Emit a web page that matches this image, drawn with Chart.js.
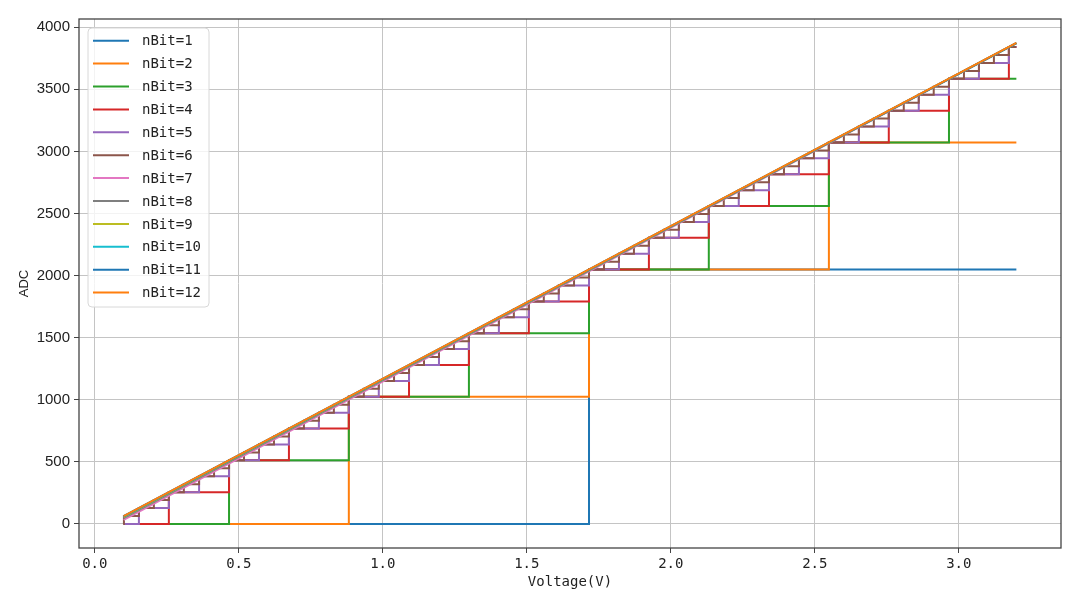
<!DOCTYPE html>
<html>
<head>
<meta charset="utf-8">
<script src="https://cdn.jsdelivr.net/npm/chart.js@4.4.1/dist/chart.umd.min.js"></script>
<style>
  html, body { margin: 0; padding: 0; background: #fff; }
  #wrap { width: 1080px; height: 607px; }
</style>
</head>
<body>
<div id="wrap"><canvas id="adcChart" width="1080" height="607"></canvas></div>
<script>
// ADC code vs input voltage for different bit depths

const seriesNames = ['nBit=1', 'nBit=2', 'nBit=3', 'nBit=4', 'nBit=5', 'nBit=6',
                     'nBit=7', 'nBit=8', 'nBit=9', 'nBit=10', 'nBit=11', 'nBit=12'];
const seriesColors = ['#1f77b4', '#ff7f0e', '#2ca02c', '#d62728', '#9467bd', '#8c564b',
                      '#e377c2', '#7f7f7f', '#bcbd22', '#17becf', '#1f77b4', '#ff7f0e'];

const vStart = 0.1;
const vEnd = 3.2;

// voltage where the 12 bit code crosses each multiple of 64
const stepVolts = [
  0.101, 0.153, 0.205, 0.257, 0.309, 0.362, 0.414, 0.466, 0.518, 0.570,
  0.622, 0.674, 0.726, 0.778, 0.830, 0.882, 0.934, 0.986, 1.039, 1.091,
  1.143, 1.195, 1.247, 1.299, 1.351, 1.403, 1.455, 1.507, 1.559, 1.611,
  1.664, 1.716, 1.768, 1.820, 1.872, 1.924, 1.976, 2.028, 2.080, 2.132,
  2.184, 2.236, 2.288, 2.341, 2.393, 2.445, 2.497, 2.549, 2.601, 2.653,
  2.705, 2.757, 2.809, 2.861, 2.913, 2.966, 3.018, 3.070, 3.122, 3.174
];
const stepCodes = [
  64, 128, 192, 256, 320, 384, 448, 512, 576, 640,
  704, 768, 832, 896, 960, 1024, 1088, 1152, 1216, 1280,
  1344, 1408, 1472, 1536, 1600, 1664, 1728, 1792, 1856, 1920,
  1984, 2048, 2112, 2176, 2240, 2304, 2368, 2432, 2496, 2560,
  2624, 2688, 2752, 2816, 2880, 2944, 3008, 3072, 3136, 3200,
  3264, 3328, 3392, 3456, 3520, 3584, 3648, 3712, 3776, 3840
];

// nBit=7..12: steps are too fine to see, start and end code of each ramp
const fineStart = [32, 48, 56, 60, 62, 63];
const fineEnd = [3872, 3872, 3872, 3872, 3872, 3873];

const xTicks = [0.0, 0.5, 1.0, 1.5, 2.0, 2.5, 3.0];
const yTicks = [0, 500, 1000, 1500, 2000, 2500, 3000, 3500, 4000];

const monoFont = "'DejaVu Sans Mono', monospace";
const sansFont = "'Liberation Sans', Arial, sans-serif";

const datasets = [];
for (let n = 1; n <= 12; n++) {
    let pts;
    if (n <= 6) {
        // coarse bit depths only keep every 2^(6-n)-th step
        const stride = Math.pow(2, 6 - n);
        pts = [{ x: vStart, y: 0 }];
        for (let k = stride; k <= stepVolts.length; k += stride) {
            pts.push({ x: stepVolts[k - 1], y: stepCodes[k - 1] });
        }
        pts.push({ x: vEnd, y: pts[pts.length - 1].y });
    } else {
        pts = [{ x: vStart, y: fineStart[n - 7] }, { x: vEnd, y: fineEnd[n - 7] }];
    }
    datasets.push({
        label: seriesNames[n - 1],
        data: pts,
        borderColor: seriesColors[n - 1],
        backgroundColor: seriesColors[n - 1],
        borderWidth: 2,
        pointRadius: 0,
        stepped: n <= 6 ? 'before' : false,
        fill: false,
        order: 12 - n // higher bit depth on top
    });
}

// full box round the plot area, like matplotlib spines
const frame = {
    id: 'frame',
    afterDatasetsDraw(chart) {
        const { left, top, right, bottom } = chart.chartArea;
        const ctx = chart.ctx;
        ctx.save();
        ctx.strokeStyle = '#444';
        ctx.lineWidth = 1.3;
        ctx.strokeRect(left, top, right - left, bottom - top);
        ctx.restore();
    }
};

// legend inside the plot, upper left
const legendBox = {
    id: 'legendBox',
    afterDraw(chart) {
        const ctx = chart.ctx;
        const x0 = chart.chartArea.left + 9;
        const y0 = chart.chartArea.top + 9;
        const w = 121, h = 279, rowH = 22.9;
        ctx.save();
        ctx.beginPath();
        ctx.roundRect(x0, y0, w, h, 4);
        ctx.fillStyle = 'rgba(255,255,255,0.8)';
        ctx.fill();
        ctx.strokeStyle = '#d8d8d8';
        ctx.lineWidth = 1;
        ctx.stroke();
        ctx.font = '14px ' + monoFont;
        ctx.textBaseline = 'middle';
        seriesNames.forEach((name, i) => {
            const y = y0 + 12.7 + i * rowH;
            ctx.strokeStyle = seriesColors[i];
            ctx.lineWidth = 2;
            ctx.beginPath();
            ctx.moveTo(x0 + 5, y);
            ctx.lineTo(x0 + 41, y);
            ctx.stroke();
            ctx.fillStyle = '#222';
            ctx.fillText(name, x0 + 54, y + 1);
        });
        ctx.restore();
    }
};

const ctx = document.getElementById('adcChart').getContext('2d');
new Chart(ctx, {
    type: 'line',
    data: { datasets: datasets },
    options: {
        responsive: false,
        animation: false,
        devicePixelRatio: 1,
        layout: { padding: { left: 0, right: 19, top: 19, bottom: 0 } },
        plugins: {
            legend: { display: false },
            tooltip: { enabled: false }
        },
        scales: {
            x: {
                type: 'linear',
                min: -0.055,
                max: 3.355,
                afterBuildTicks: s => { s.ticks = xTicks.map(v => ({ value: v })); },
                afterFit: s => { s.height = 59; },
                border: { display: false },
                grid: { color: '#c4c4c4', lineWidth: 1, tickColor: '#444', tickLength: 5 },
                ticks: {
                    color: '#222',
                    padding: 3,
                    maxRotation: 0,
                    font: { family: monoFont, size: 14 },
                    callback: v => v.toFixed(1)
                },
                title: {
                    display: true,
                    text: 'Voltage(V)',
                    color: '#222',
                    font: { family: monoFont, size: 14 },
                    padding: { top: 0, bottom: 16 }
                }
            },
            y: {
                type: 'linear',
                min: -193.6,
                max: 4066,
                afterBuildTicks: s => { s.ticks = yTicks.map(v => ({ value: v })); },
                afterFit: s => { s.width = 79; },
                border: { display: false },
                grid: { color: '#c4c4c4', lineWidth: 1, tickColor: '#444', tickLength: 5 },
                ticks: {
                    color: '#222',
                    padding: 4,
                    font: { family: sansFont, size: 15 },
                    callback: v => String(v)
                },
                title: {
                    display: true,
                    text: 'ADC',
                    color: '#222',
                    font: { family: sansFont, size: 13 },
                    padding: { top: 17, bottom: 0 }
                }
            }
        }
    },
    plugins: [frame, legendBox]
});
</script>
</body>
</html>
